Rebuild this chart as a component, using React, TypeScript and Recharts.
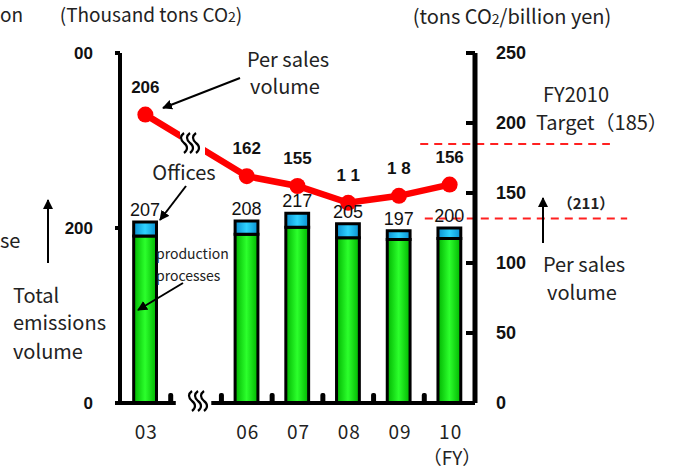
import { ComposedChart, Bar, Line, Scatter, XAxis, YAxis, LabelList, ReferenceLine } from "recharts"

document.body.style.margin = "0"

const years = ["03", "06", "07", "08", "09", "10"]
const slots = [0, 2, 3, 4, 5, 6]
const production = [191, 193, 201, 189, 187, 188]
const offices = [16, 15, 16, 16, 10, 12]
const totals = ["207", "208", "217", "205", "197", "200"]
const perSales = [206, 162, 155, 143, 148, 156]
const perSalesLabels = ["206", "162", "155", "1 1", "1 8", "156"]
const leftTicks = [0, 200, 400]
const leftTickLabels = ["0", "200", "00"]
const rightTicks = [0, 50, 100, 150, 200, 250]
const boundaryTicks = [0.5, 1.5, 2.5, 3.5, 4.5, 5.5]
const target = 185
const baseline = 211

const FONT = "'Noto Sans CJK JP', sans-serif"
const NUM_FONT = "'Liberation Sans', Arial, sans-serif"

const data = years.map((y, i) => ({
  x: slots[i],
  year: y,
  production: production[i],
  offices: offices[i],
  total: totals[i],
  perSales: perSales[i],
  perSalesLabel: perSalesLabels[i],
}))

const markData = boundaryTicks.map((b) => ({ x: b, y: 0 }))

function XTick(props: any) {
  const { x, y, payload } = props
  const idx = slots.indexOf(payload.value)
  return (
    <text x={x + 1} y={y + 36} textAnchor="middle" fontSize={19} fontFamily={FONT} letterSpacing={1} fill="#222">
      {years[idx]}
    </text>
  )
}

// small inward tick between years
function TickMark(props: any) {
  const { cx, cy } = props
  return <rect x={cx - 2.5} y={cy - 10} width={5} height={10} rx={2} fill="#000" />
}

function Squiggle({ cx, cy }: { cx: number; cy: number }) {
  const s = (x: number) => `M${x},${cy - 10} c-4,3 -4,6 0,10 c4,3 4,7 0,10`
  return (
    <g stroke="#000" strokeWidth={2.2} fill="none">
      <path d={s(cx - 6)} />
      <path d={s(cx)} />
      <path d={s(cx + 6)} />
    </g>
  )
}

export default function App() {
  return (
    <div style={{ position: "relative", width: 688, height: 474, background: "#fff" }}>
      <ComposedChart width={688} height={474} data={data} margin={{ top: 53, right: 153, left: 60, bottom: 31 }}>
        <defs>
          <linearGradient id="gGreen" x1="0" y1="0" x2="1" y2="0">
            <stop offset="0%" stopColor="#00b400" />
            <stop offset="50%" stopColor="#2cff2c" />
            <stop offset="100%" stopColor="#00b400" />
          </linearGradient>
          <linearGradient id="gBlue" x1="0" y1="0" x2="1" y2="0">
            <stop offset="0%" stopColor="#0a8fd0" />
            <stop offset="50%" stopColor="#2ed2ff" />
            <stop offset="100%" stopColor="#0a8fd0" />
          </linearGradient>
        </defs>
        <XAxis
          dataKey="x"
          type="number"
          domain={[-0.5, 6.5]}
          ticks={slots}
          interval={0}
          axisLine={false}
          tickLine={false}
          tickSize={0}
          tickMargin={0}
          tick={<XTick />}
          height={40}
        />
        <YAxis
          yAxisId="left"
          domain={[0, 400]}
          ticks={leftTicks}
          width={60}
          tickSize={5}
          tickMargin={22}
          tickFormatter={(v: number) => leftTickLabels[leftTicks.indexOf(v)]}
          axisLine={{ stroke: "#000", strokeWidth: 4 }}
          tickLine={{ stroke: "#000", strokeWidth: 4 }}
          tick={{ fill: "#111", fontSize: 17, fontWeight: 700, fontFamily: NUM_FONT }}
        />
        <YAxis
          yAxisId="right"
          orientation="right"
          domain={[0, 250]}
          ticks={rightTicks}
          width={60}
          tickSize={-9}
          tickMargin={30}
          axisLine={{ stroke: "#000", strokeWidth: 5 }}
          tickLine={{ stroke: "#000", strokeWidth: 4 }}
          tick={{ fill: "#111", fontSize: 18, fontWeight: 700, fontFamily: NUM_FONT }}
        />
        <ReferenceLine
          yAxisId="left"
          segment={[{ x: -0.56, y: 0 }, { x: 0.6, y: 0 }]}
          stroke="#000"
          strokeWidth={4}
          ifOverflow="visible"
        />
        <ReferenceLine
          yAxisId="left"
          segment={[{ x: 1.3, y: 0 }, { x: 6.5, y: 0 }]}
          stroke="#000"
          strokeWidth={4}
          ifOverflow="visible"
        />
        <Scatter yAxisId="left" data={markData} dataKey="y" fill="#000" shape={<TickMark />} isAnimationActive={false} />
        <Bar yAxisId="left" dataKey="production" stackId="a" barSize={26} fill="url(#gGreen)" stroke="#000" strokeWidth={3} isAnimationActive={false} />
        <Bar yAxisId="left" dataKey="offices" stackId="a" barSize={26} fill="url(#gBlue)" stroke="#000" strokeWidth={3} isAnimationActive={false}>
          <LabelList dataKey="total" position="top" offset={6} fill="#111" fontSize={18} fontFamily={NUM_FONT} />
        </Bar>
        <Line
          yAxisId="right"
          dataKey="perSales"
          stroke="#ff0000"
          strokeWidth={6.5}
          dot={{ r: 8, fill: "#ff0000", stroke: "none" }}
          activeDot={false}
          isAnimationActive={false}
        >
          <LabelList dataKey="perSalesLabel" position="top" offset={22} fill="#111" fontSize={17} fontWeight={700} fontFamily={NUM_FONT} />
        </Line>
        <ReferenceLine
          yAxisId="right"
          segment={[{ x: 5.42, y: target }, { x: 9.16, y: target }]}
          stroke="#ff2020"
          strokeWidth={2}
          strokeDasharray="8 6"
          ifOverflow="visible"
        />
        <ReferenceLine
          yAxisId="left"
          segment={[{ x: 5.51, y: baseline }, { x: 9.5, y: baseline }]}
          stroke="#ff2020"
          strokeWidth={2}
          strokeDasharray="8 6"
          ifOverflow="visible"
        />
      </ComposedChart>

      <svg width={688} height={474} style={{ position: "absolute", left: 0, top: 0, pointerEvents: "none" }}>
        <defs>
          <marker id="arr" viewBox="0 0 10 10" refX="9" refY="5" markerWidth="5" markerHeight="5" orient="auto">
            <path d="M0,0 L10,5 L0,10 z" fill="#000" />
          </marker>
        </defs>
        <g fontFamily={FONT} fill="#222">
          <text x={0} y={22} fontSize={19}>on</text>
          <text x={151} y={22} fontSize={19} textAnchor="middle">
            (Thousand tons CO<tspan fontSize={14}>2</tspan>)
          </text>
          <text x={512} y={24} fontSize={20} textAnchor="middle">
            (tons CO<tspan fontSize={14}>2</tspan>/billion yen)
          </text>
          <text x={288} y={67} fontSize={20} textAnchor="middle">Per sales</text>
          <text x={285} y={94} fontSize={20} textAnchor="middle">volume</text>
          <text x={184} y={180} fontSize={20} textAnchor="middle">Offices</text>
          <text x={156} y={259} fontSize={14}>production</text>
          <text x={156} y={281} fontSize={14}>processes</text>
          <text x={576} y={102} fontSize={20} textAnchor="middle">FY2010</text>
          <text x={536} y={130} fontSize={20}>Target（185）</text>
          <text x={586} y={209} fontSize={15} fontWeight={700} textAnchor="middle">（211）</text>
          <text x={584} y={272} fontSize={20} textAnchor="middle">Per sales</text>
          <text x={582} y={300} fontSize={20} textAnchor="middle">volume</text>
          <text x={0} y={248} fontSize={20}>se</text>
          <text x={13} y={303} fontSize={20}>Total</text>
          <text x={13} y={330} fontSize={20}>emissions</text>
          <text x={13} y={359} fontSize={20}>volume</text>
          <text x={452} y={465} fontSize={19} textAnchor="middle">（FY）</text>
        </g>
        <g stroke="#000" strokeWidth={2}>
          <line x1={240} y1={78} x2={163} y2={108} markerEnd="url(#arr)" />
          <line x1={186} y1={186} x2={160} y2={220} markerEnd="url(#arr)" />
          <line x1={183} y1={283} x2={138} y2={310} markerEnd="url(#arr)" />
          <line x1={543} y1={243} x2={543} y2={198} markerEnd="url(#arr)" />
          <line x1={48} y1={263} x2={48} y2={200} markerEnd="url(#arr)" />
        </g>
        <rect x={180} y={126} width={25} height={34} fill="#fff" />
        <Squiggle cx={190} cy={143} />
        <rect x={188} y={394} width={19} height={18} fill="#fff" />
        <Squiggle cx={198} cy={401} />
      </svg>
    </div>
  )
}
